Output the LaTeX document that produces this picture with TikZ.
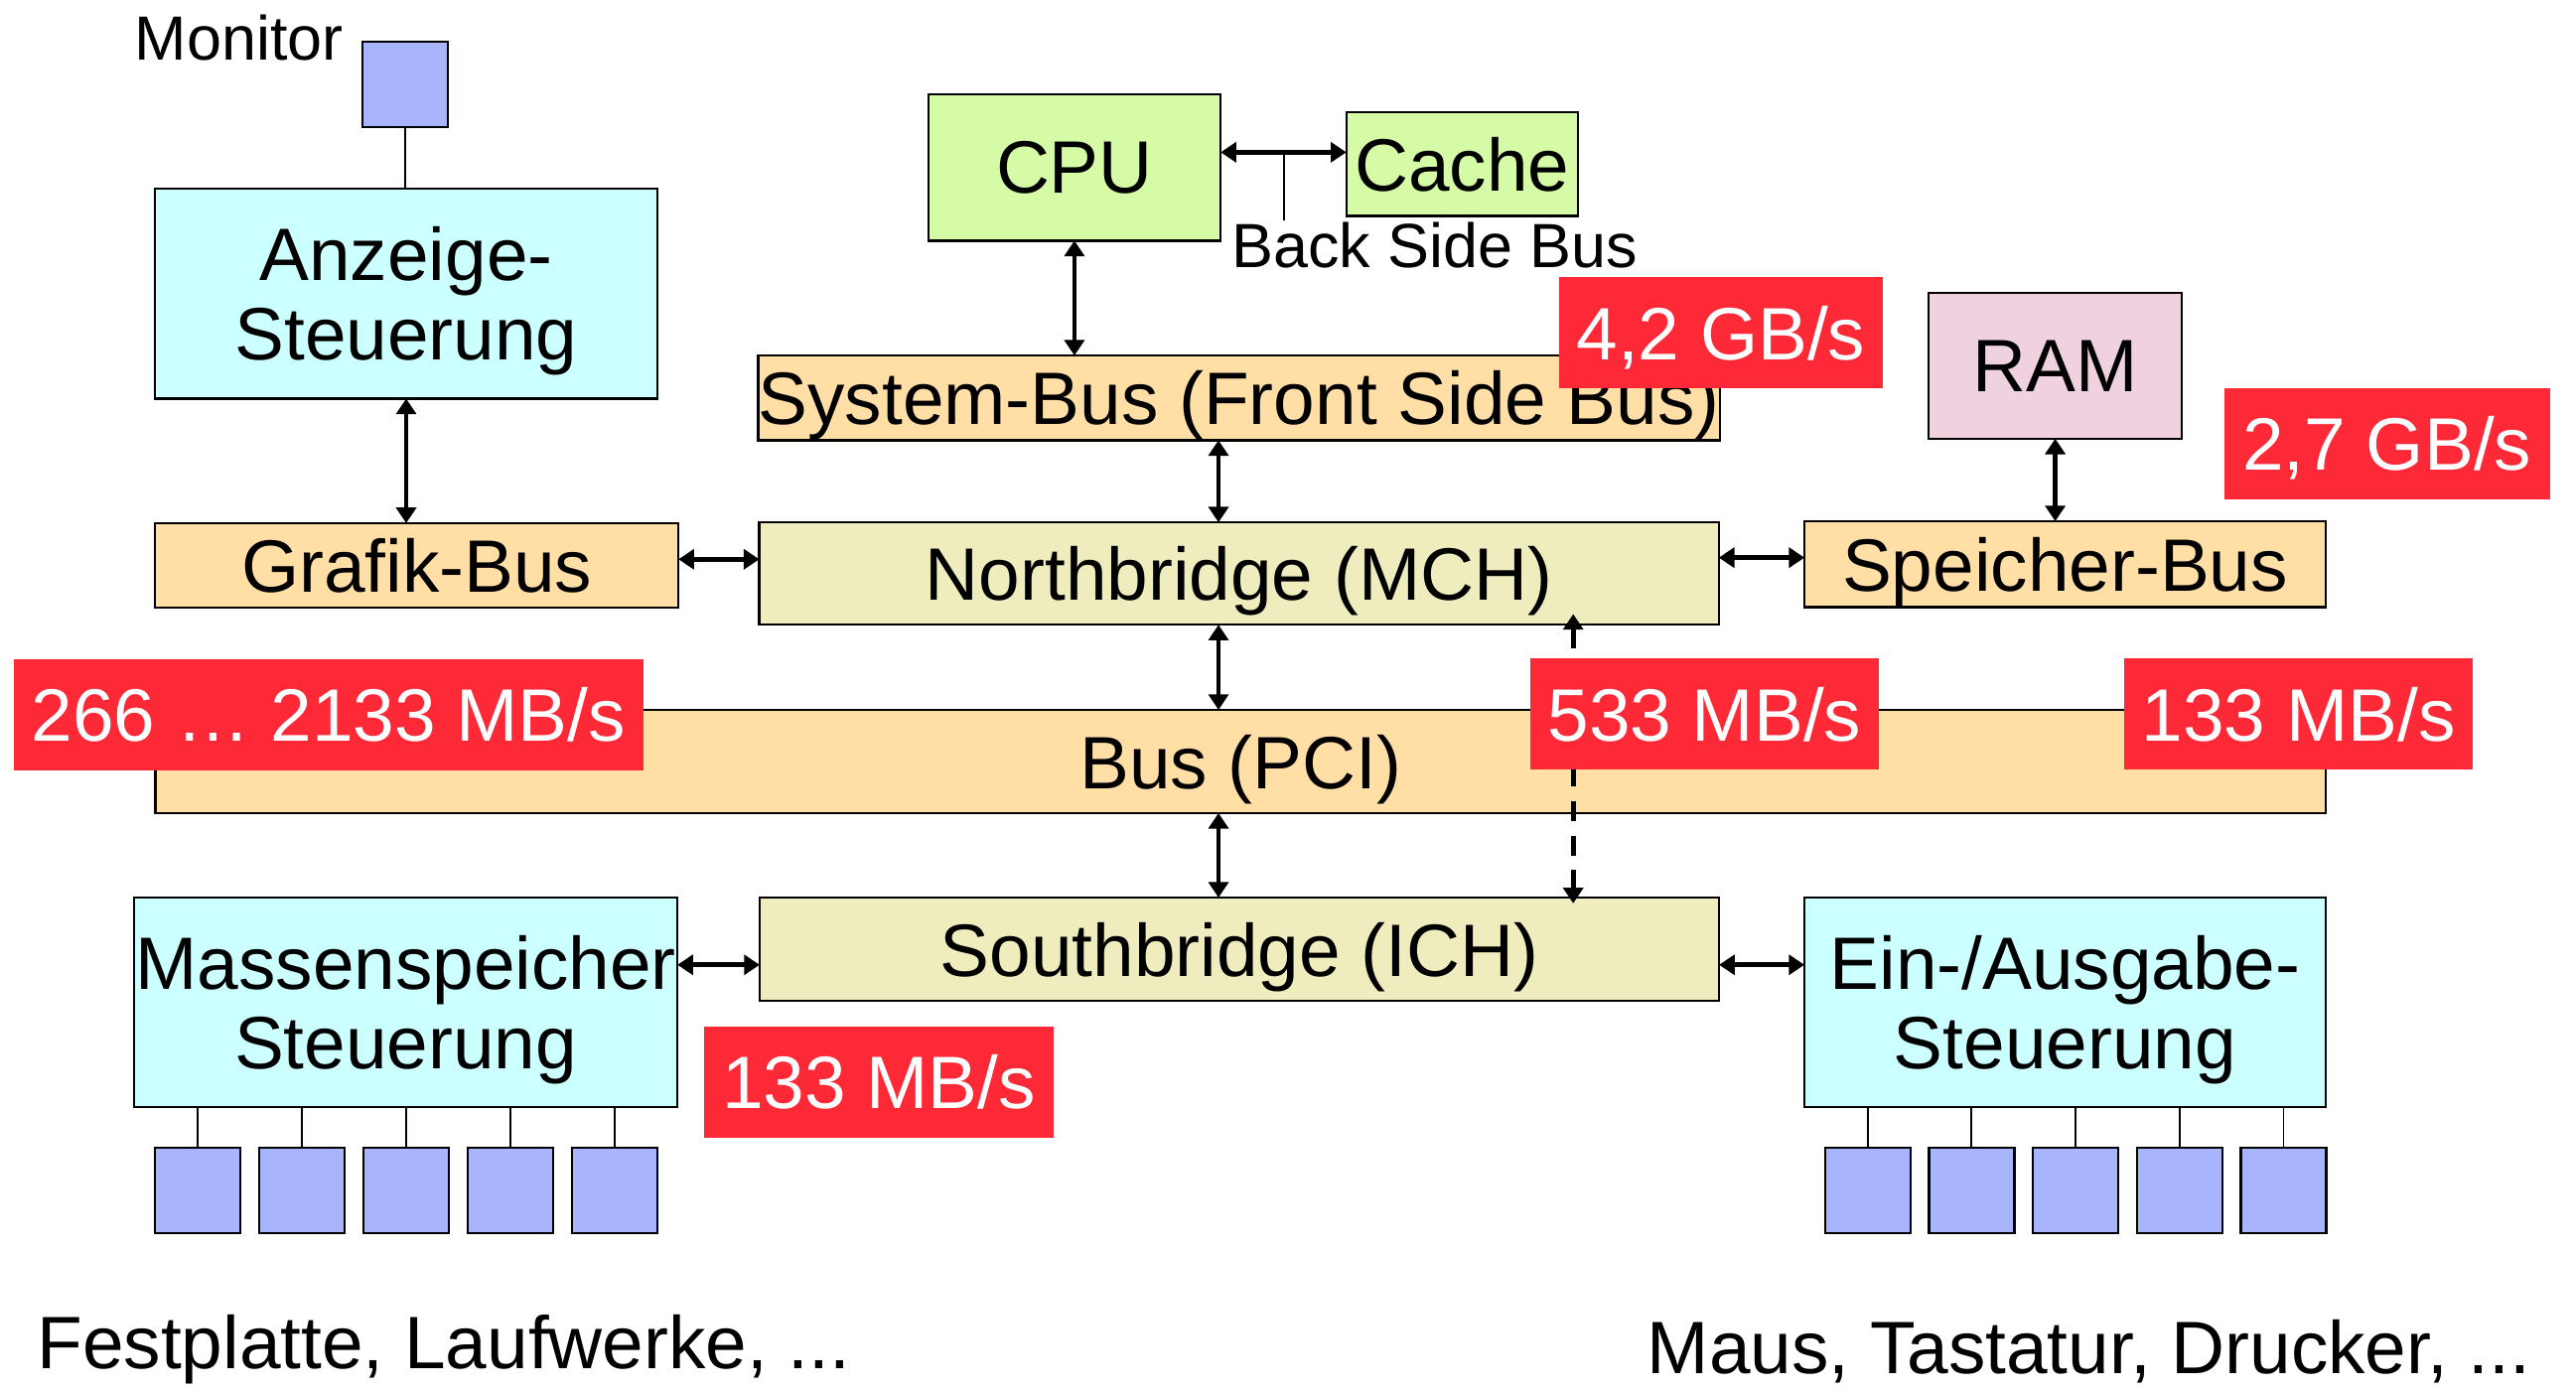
\documentclass[tikz,border=0pt]{standalone}
\usepackage{fontspec}
\setmainfont{Liberation Sans}
\usetikzlibrary{arrows.meta,positioning,calc}

\definecolor{ctrlcyan}{HTML}{CCFFFF}
\definecolor{cpugreen}{HTML}{D6FBA6}
\definecolor{busorange}{HTML}{FFDFA6}
\definecolor{bridgeyellow}{HTML}{EFEDBD}
\definecolor{rampink}{HTML}{F0D1E0}
\definecolor{devblue}{HTML}{A8B4FC}
\definecolor{ratered}{HTML}{FE2937}

\newcommand{\lblfont}{\fontsize{45.2bp}{48.6bp}\selectfont}
\newcommand{\notefont}{\fontsize{38bp}{40bp}\selectfont}

\begin{document}
\begin{tikzpicture}[x=1bp,y=-1bp,line width=1.4bp]
\tikzstyle{unit}=[draw,rectangle,inner sep=0pt,outer sep=0pt,text depth=0pt,align=center,font=\lblfont]
\tikzstyle{rate}=[unit,draw=none,fill=ratered,text=white,minimum height=67.5bp]
\tikzstyle{dev}=[draw,rectangle,fill=devblue,inner sep=0pt,outer sep=0pt,minimum width=52bp,minimum height=52bp]
\tikzstyle{link}=[{Triangle[length=9.5bp,width=12bp]}-{Triangle[length=9.5bp,width=12bp]},line width=2.8bp]
\tikzstyle{wire}=[line width=1.1bp]
\tikzstyle{caption}=[inner sep=0pt,anchor=base west,font=\lblfont]
\useasboundingbox (0,0) rectangle (1568,846);

\node[dev] (monitor) at (246.5,51.5) {};
\node[caption,font=\notefont] (monlabel) at (81.5,36.4) {Monitor};
\node[unit,fill=ctrlcyan,minimum width=305.5bp,minimum height=128bp] (anz) at (247.25,178.7) {Anzeige-\\Steuerung};
\node[unit,fill=busorange,minimum width=318.5bp,minimum height=51.5bp] (grafik) at (253.75,344.25) {Grafik-Bus};

\node[unit,fill=cpugreen,minimum width=178bp,minimum height=89bp] (cpu) at (654,102) {CPU};
\node[unit,fill=cpugreen,minimum width=141bp,minimum height=63bp] (cache) at (890,100) {Cache};
\node[caption,font=\notefont] (bsblabel) at (749,162.7) {Back Side Bus};
\node[unit,fill=busorange,minimum width=584bp,minimum height=51.5bp] (fsb) at (754.2,242.25) {System-Bus (Front Side Bus)};
\node[unit,fill=rampink,minimum width=154bp,minimum height=88.7bp] (ram) at (1251,222.7) {RAM};
\node[unit,fill=busorange,minimum width=317.2bp,minimum height=52.3bp] (membus) at (1257,343.5) {Speicher-Bus};
\node[unit,fill=bridgeyellow,minimum width=584bp,minimum height=62.3bp] (nb) at (754.2,349.2) {Northbridge (MCH)};
\node[unit,fill=busorange,minimum width=1321bp,minimum height=62.8bp] (pci) at (755.2,463.6) {Bus (PCI)};
\node[unit,fill=bridgeyellow,minimum width=584bp,minimum height=63bp] (sb) at (754.4,578) {Southbridge (ICH)};
\node[unit,fill=ctrlcyan,minimum width=330.7bp,minimum height=127.5bp] (mass) at (247,610.25) {Massenspeicher\\Steuerung};
\node[unit,fill=ctrlcyan,minimum width=317.3bp,minimum height=127.3bp] (ea) at (1257,610.2) {Ein-/Ausgabe-\\Steuerung};

\foreach \i in {1,...,5} {
  \node[dev] (drive\i) at (57+63.4*\i,724.6) {};
  \draw[wire] (drive\i.north) -- (drive\i.north |- mass.south);
  \node[dev] (io\i) at (1073.5+63.3*\i,724.6) {};
  \draw[wire] (io\i.north) -- (io\i.north |- ea.south);
}
\node[caption] (drives) at (22,833) {Festplatte, Laufwerke, ...};
\node[caption] (periph) at (1002,836.5) {Maus, Tastatur, Drucker, ...};

\coordinate (spine) at (741.7,0);
\coordinate (bypass) at (957.6,0);
\coordinate (bsb) at (781.5,92.7);
\draw[wire] (monitor.south) -- (monitor.south |- anz.north);
\draw[link] (anz.south) -- (anz.south |- grafik.north);
\draw[link] (grafik.east |- 0,340.5) -- (nb.west |- 0,340.5);
\draw[link] (cpu.east |- bsb) -- (cache.west |- bsb);
\draw[wire] (bsb) -- (bsb |- bsblabel.north);
\draw[link] (cpu.south) -- (cpu.south |- fsb.north);
\draw[link] (fsb.south -| spine) -- (nb.north -| spine);
\draw[link] (nb.south -| spine) -- (pci.north -| spine);
\draw[link] (pci.south -| spine) -- (sb.north -| spine);
\draw[link] (ram.south) -- (ram.south |- membus.north);
\draw[link] (nb.east |- 0,339.5) -- (membus.west |- 0,339.5);
\draw[link] (mass.east |- 0,587.4) -- (sb.west |- 0,587.4);
\draw[link] (sb.east |- 0,587.4) -- (ea.west |- 0,587.4);
\draw[link,dash pattern=on 12bp off 9bp,shorten <=-6.5bp,shorten >=-3.5bp] (nb.south -| bypass) -- (sb.north -| bypass);

\node[rate,minimum width=197bp] (rfsb) at (1047.5,202.5) {4,2 GB/s};
\node[rate,minimum width=198bp] (rmem) at (1453,270) {2,7 GB/s};
\node[rate,minimum width=383.4bp] (ragp) at (200,435.15) {266 … 2133 MB/s};
\node[rate,minimum width=212.4bp] (rhub) at (1037.5,434.75) {533 MB/s};
\node[rate,minimum width=212.2bp] (rpci) at (1399.1,434.7) {133 MB/s};
\node[rate,minimum width=212.8bp] (ride) at (535,658.8) {133 MB/s};
\end{tikzpicture}
\end{document}
